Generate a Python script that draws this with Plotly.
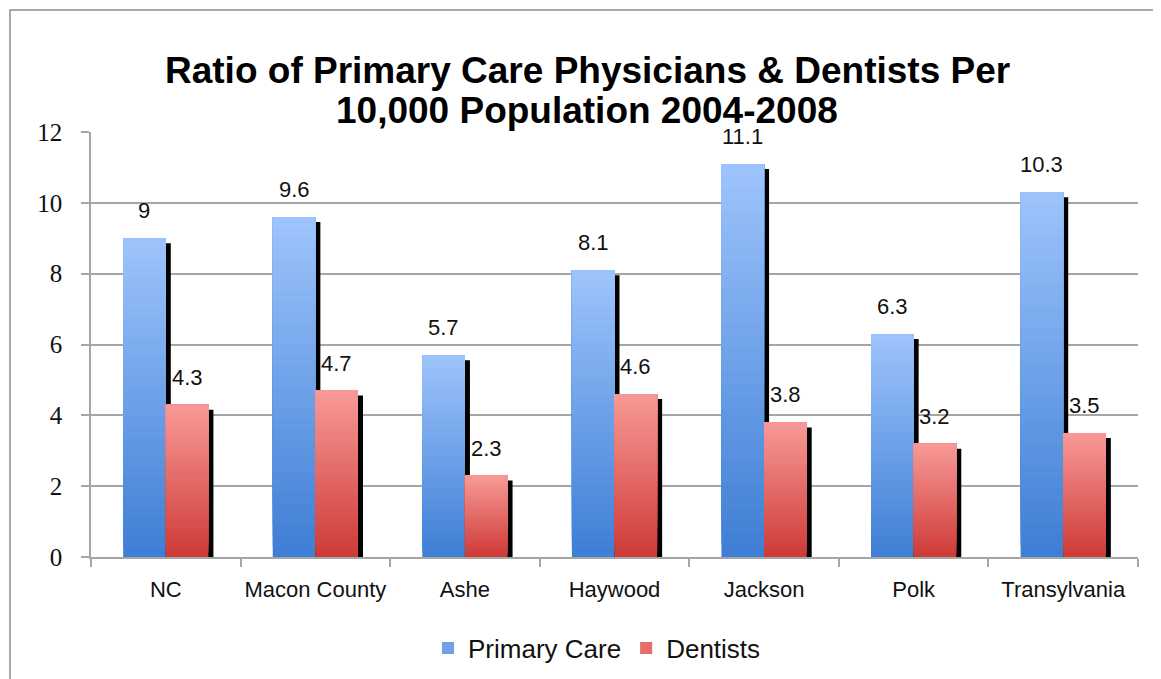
import plotly.graph_objects as go

categories = ["NC", "Macon County", "Ashe", "Haywood", "Jackson", "Polk", "Transylvania"]
primary_care = [9, 9.6, 5.7, 8.1, 11.1, 6.3, 10.3]
dentists = [4.3, 4.7, 2.3, 4.6, 3.8, 3.2, 3.5]
y_ticks = [0, 2, 4, 6, 8, 10, 12]

title_line1 = "Ratio of Primary Care Physicians & Dentists Per"
title_line2 = "10,000 Population 2004-2008"

# page offset (default body margin of the html page)
OFF = 8
W, H = 1161, 679
# plot area in screen pixels
PX0, PX1, PY0, PY1 = 91, 1138, 132, 557
plot_w = PX1 - PX0
plot_h = PY1 - PY0
px_per_cat = plot_w / len(categories)
px_per_unit = plot_h / 12.0

BAR_W = 0.285
SHADOW_DX = 5 / px_per_cat
SHADOW_DY = 5 / px_per_unit
K = 32

blue_bot, blue_top = (62, 126, 212), (158, 196, 252)
red_bot, red_top = (206, 58, 54), (248, 154, 152)


def mix(c0, c1, t):
    return "rgb(%d,%d,%d)" % tuple(round(a + (b - a) * t) for a, b in zip(c0, c1))


def px_x(x):
    return (x - PX0) / plot_w


def px_y(y):
    return (PY1 - y) / plot_h


fig = go.Figure()


def add_series(values, name, offset, c_bot, c_top):
    # shadow
    fig.add_trace(go.Bar(
        x=categories, y=[v - SHADOW_DY for v in values], base=0,
        width=BAR_W, offset=offset + SHADOW_DX,
        marker=dict(color="black", line=dict(width=0)),
        showlegend=False, hoverinfo="skip"))
    # gradient slices
    for k in range(K):
        t = (k + 0.5) / K
        fig.add_trace(go.Bar(
            x=categories,
            base=[v * k / K for v in values],
            y=[v * (1 - k / K) for v in values],
            width=BAR_W, offset=offset,
            marker=dict(color=mix(c_bot, c_top, t), line=dict(width=0)),
            name=name, legendgroup=name,
            showlegend=(k == K // 2), hoverinfo="skip"))


add_series(primary_care, "Primary Care", -BAR_W, blue_bot, blue_top)
add_series(dentists, "Dentists", 0, red_bot, red_top)

annotations = []
label_font = dict(family="Liberation Sans", size=22, color="#111")
for cat, v in zip(categories, primary_care):
    annotations.append(dict(x=cat, y=v, xref="x", yref="y", text=f"{v:g}",
                            showarrow=False, yanchor="bottom", xshift=-BAR_W * px_per_cat / 2,
                            yshift=13, font=label_font))
for cat, v in zip(categories, dentists):
    annotations.append(dict(x=cat, y=v, xref="x", yref="y", text=f"{v:g}",
                            showarrow=False, yanchor="bottom", xshift=BAR_W * px_per_cat / 2,
                            yshift=13, font=label_font))

title_font = dict(family="Liberation Sans", size=37, color="black")
annotations.append(dict(text="<b>" + title_line1 + "</b>", x=px_x(587), y=px_y(70.5),
                        xref="paper", yref="paper", showarrow=False, xanchor="center", yanchor="middle",
                        font=title_font))
annotations.append(dict(text="<b>" + title_line2 + "</b>", x=px_x(587), y=px_y(110.5),
                        xref="paper", yref="paper", showarrow=False, xanchor="center", yanchor="middle",
                        font=title_font))

grey = "#a6a6a6"
fig.update_layout(
    width=W - OFF, height=H - OFF,
    margin=dict(l=PX0 - OFF, r=W - PX1, t=PY0 - OFF, b=H - PY1, pad=0, autoexpand=False),
    barmode="overlay",
    plot_bgcolor="white", paper_bgcolor="white",
    hovermode=False,
    annotations=annotations,
    showlegend=True,
    legend=dict(orientation="h", x=px_x(597), xanchor="center",
                y=px_y(648), yanchor="middle",
                font=dict(family="Liberation Sans", size=26, color="#111"),
                bgcolor="rgba(0,0,0,0)"),
    shapes=[dict(type="rect", xref="paper", yref="paper",
                 x0=px_x(10), x1=3, y0=-3, y1=px_y(10),
                 line=dict(color="#8c8c8c", width=1.5), fillcolor="rgba(0,0,0,0)", layer="below")],
)

fig.update_xaxes(
    type="category", range=[-0.5, len(categories) - 0.5],
    showgrid=False, showline=True, linecolor=grey, linewidth=1.5,
    ticks="outside", tickson="boundaries", ticklen=8, tickcolor=grey, tickwidth=1.5,
    tickangle=0, automargin=False,
    tickfont=dict(family="Liberation Sans", size=22, color="#111"),
    ticklabelstandoff=12,
)
fig.update_yaxes(
    range=[0, 12], tickvals=y_ticks, ticktext=[str(t) for t in y_ticks],
    showgrid=True, gridcolor=grey, gridwidth=1.5,
    showline=True, linecolor=grey, linewidth=1.5, zeroline=False,
    ticks="outside", ticklen=8, tickcolor=grey, tickwidth=1.5, automargin=False,
    tickfont=dict(family="Liberation Serif", size=25, color="#111"),
    ticklabelstandoff=14,
)

fig.write_html("out.html")
